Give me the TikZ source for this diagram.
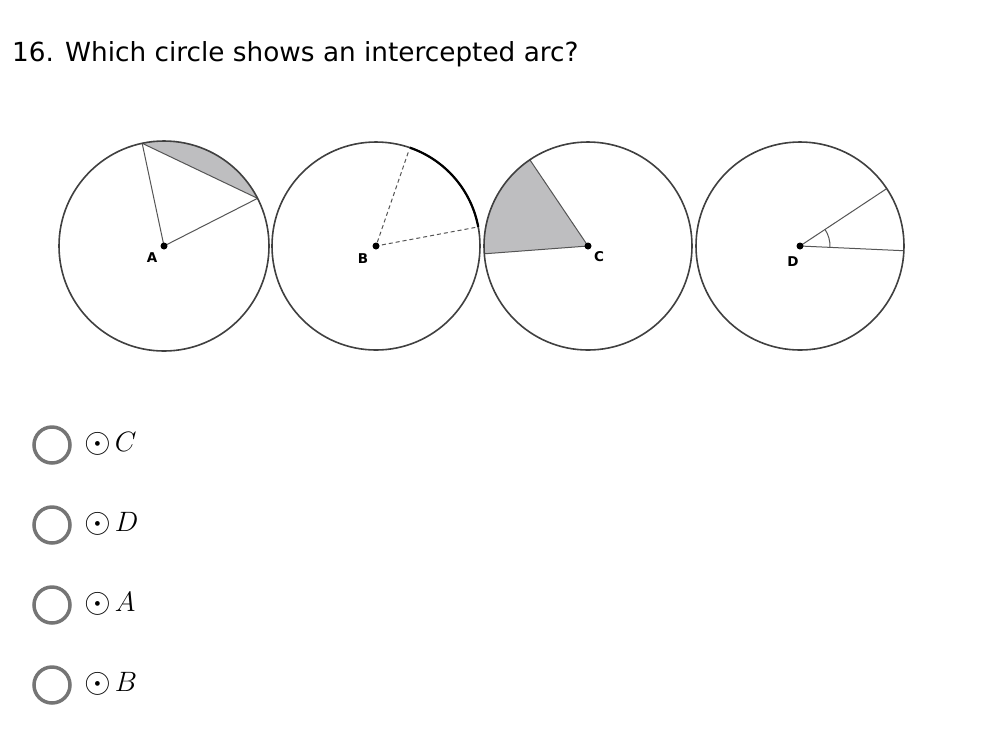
\RequirePackage{fix-cm}
\documentclass[tikz,border=0pt]{standalone}
\usepackage{fontspec}
\usepackage{graphicx}
\newfontfamily\dejavu{DejaVu Sans}
\usetikzlibrary{calc}
\definecolor{rim}{HTML}{404040}
\definecolor{spoke}{HTML}{555555}
\definecolor{greyfill}{HTML}{BEBEC0}
\definecolor{radio}{HTML}{757575}
\newcommand{\bigdot}{\raisebox{-1.5pt}{\scalebox{1.23}{$\odot$}}}
\tikzset{
  rimline/.style={draw=rim, line width=1.6},
  spokeline/.style={draw=spoke, line width=1},
  dot/.style={circle, fill=black, inner sep=0pt, minimum size=7},
  ptlabel/.style={font=\dejavu\bfseries\fontsize{13.5}{14}\selectfont, inner sep=0pt},
  radiobtn/.style={circle, draw=radio, line width=3.5, minimum size=36, inner sep=0pt},
  choice/.style={anchor=base west, inner sep=0pt, font=\fontsize{28}{32}\selectfont},
}
\begin{document}
\begin{tikzpicture}[x=1pt,y=-1pt]
\useasboundingbox[fill=white] (0,0) rectangle (996,740);
% title
\node[anchor=base west, inner sep=0pt, font=\dejavu\fontsize{26.3}{30}\selectfont] (title) at (12,61) {16. Which circle shows an intercepted arc?};
% centres
\coordinate (A) at (164,246);
\coordinate (B) at (376,246);
\coordinate (C) at (588,246);
\coordinate (D) at (800,246);
% circle A: segment
\coordinate (A1) at ($(A)+(-102:105)$);
\coordinate (A2) at ($(A)+(-27:105)$);
\fill[greyfill] (A2) arc[start angle=-27, end angle=-102, radius=105] -- cycle;
\draw[spokeline] (A1) -- (A) -- (A2);
\draw[spokeline] (A1) -- (A2);
\draw[rimline] (A) circle[radius=105];
% circle B
\coordinate (B1) at ($(B)+(-71:99)$);
\coordinate (B2) at ($(B)+(-10.6:104)$);
\draw[rimline] (B) circle[radius=104];
\draw[spokeline, dash pattern=on 4pt off 3pt] (B1) -- (B) -- (B2);
\draw[draw=black, line width=2.2] (B2) arc[start angle=-10.6, end angle=-71, radius=104];
% circle C: sector
\coordinate (C1) at ($(C)+(-124:104)$);
\coordinate (C2) at ($(C)+(-184.3:104)$);
\fill[greyfill] (C) -- (C1) arc[start angle=-124, end angle=-184.3, radius=104] -- cycle;
\draw[spokeline] (C1) -- (C) -- (C2);
\draw[rimline] (C) circle[radius=104];
% circle D
\coordinate (D1) at ($(D)+(-33.5:104)$);
\coordinate (D2) at ($(D)+(2.6:104)$);
\coordinate (D3) at ($(D)+(2.6:30)$);
\draw[spokeline] (D1) -- (D) -- (D2);
\draw[spokeline] (D3) arc[start angle=2.6, end angle=-33.5, radius=30];
\draw[rimline] (D) circle[radius=104];
% centre dots and labels
\foreach \p in {A,B,C,D} \node[dot] (dot\p) at (\p) {};
\node[ptlabel] (labA) at (152,258) {A};
\node[ptlabel] (labB) at (363,259) {B};
\node[ptlabel] (labC) at (599,257) {C};
\node[ptlabel] (labD) at (793,262) {D};
% choices
\node[radiobtn] (r1) at (52,445) {};
\node[radiobtn] (r2) at (52,525) {};
\node[radiobtn] (r3) at (52,605) {};
\node[radiobtn] (r4) at (52,685) {};
\node[choice] (c1) at (84,451) {\bigdot$\mkern2.5mu C$};
\node[choice] (c2) at (84,531) {\bigdot$\mkern2.5mu D$};
\node[choice] (c3) at (84,611) {\bigdot$\mkern2.5mu A$};
\node[choice] (c4) at (84,691) {\bigdot$\mkern2.5mu B$};
\end{tikzpicture}
\end{document}
